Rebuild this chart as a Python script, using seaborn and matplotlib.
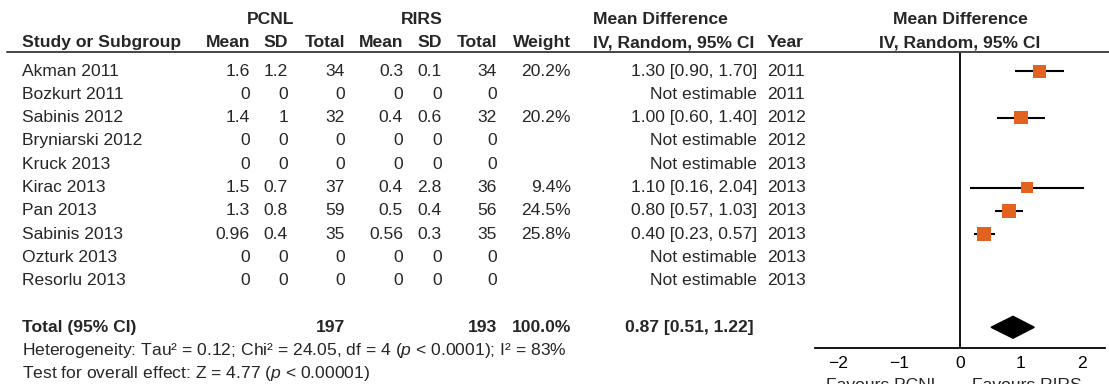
import numpy as np
import matplotlib
matplotlib.use("Agg")
import matplotlib.pyplot as plt
import matplotlib.transforms as mtrans
from matplotlib.lines import Line2D
import seaborn as sns

#%% data
studies = ["Akman 2011", "Bozkurt 2011", "Sabinis 2012", "Bryniarski 2012", "Kruck 2013",
           "Kirac 2013", "Pan 2013", "Sabinis 2013", "Ozturk 2013", "Resorlu 2013"]
pcnl_mean = [1.6, 0, 1.4, 0, 0, 1.5, 1.3, 0.96, 0, 0]
pcnl_sd = [1.2, 0, 1, 0, 0, 0.7, 0.8, 0.4, 0, 0]
pcnl_n = [34, 0, 32, 0, 0, 37, 59, 35, 0, 0]
rirs_mean = [0.3, 0, 0.4, 0, 0, 0.4, 0.5, 0.56, 0, 0]
rirs_sd = [0.1, 0, 0.6, 0, 0, 2.8, 0.4, 0.3, 0, 0]
rirs_n = [34, 0, 32, 0, 0, 36, 56, 35, 0, 0]
weight = [20.2, np.nan, 20.2, np.nan, np.nan, 9.4, 24.5, 25.8, np.nan, np.nan]
md = [1.30, np.nan, 1.00, np.nan, np.nan, 1.10, 0.80, 0.40, np.nan, np.nan]
ci_lo = [0.90, np.nan, 0.60, np.nan, np.nan, 0.16, 0.57, 0.23, np.nan, np.nan]
ci_hi = [1.70, np.nan, 1.40, np.nan, np.nan, 2.04, 1.03, 0.57, np.nan, np.nan]
years = [2011, 2011, 2012, 2012, 2013, 2013, 2013, 2013, 2013, 2013]

total_pcnl_n = 197
total_rirs_n = 193
total_weight = 100.0
total_md, total_lo, total_hi = 0.87, 0.51, 1.22
heterogeneity = "Heterogeneity: Tau² = 0.12; Chi² = 24.05, df = 4 ($\\it{p}$ < 0.0001); I² = 83%"
overall = "Test for overall effect: Z = 4.77 ($\\it{p}$ < 0.00001)"
xticks = [-2, -1, 0, 1, 2]

#%% style
sns.set_style("white")
plt.rcParams["font.family"] = ["Liberation Sans", "DejaVu Sans"]
plt.rcParams["mathtext.fontset"] = "custom"
plt.rcParams["mathtext.it"] = "Liberation Sans:italic"
plt.rcParams["mathtext.rm"] = "Liberation Sans"
FS = 12.6
orange = "#e2621f"

W, H = 1109, 384
fig = plt.figure(figsize=(W / 100, H / 100), dpi=100)
fx = lambda px: px / W

# forest panel (pixel box 815..1105 wide, 52..348 from top)
ax = fig.add_axes([fx(815), 1 - 348 / H, fx(290), 296 / H])
ax.set_xlim(-2.38, 2.38)
ax.set_ylim(11.89, -0.82)

rows = np.arange(len(studies))
ok = ~np.isnan(md)
ax.hlines(rows[ok], np.array(ci_lo)[ok], np.array(ci_hi)[ok], color="black", lw=1.5, zorder=2)
sns.scatterplot(x=np.array(md)[ok], y=rows[ok], size=np.array(weight)[ok], sizes=(70, 100),
                size_norm=(9.4, 25.8), marker="s", color=orange, linewidth=0,
                legend=False, ax=ax, zorder=3)
total_row = len(studies) + 1
ax.fill([total_lo, total_md, total_hi, total_md], [total_row, total_row - 0.47, total_row, total_row + 0.47],
        color="black", zorder=3)
ax.axvline(0, color="black", lw=1.3, zorder=1)

ax.set_xticks(xticks)
ax.set_yticks([])
ax.set_xlabel("")
ax.set_ylabel("")
sns.despine(ax=ax, left=True)
ax.spines["bottom"].set_linewidth(1.3)
ax.spines["bottom"].set_color("black")
ax.tick_params(axis="x", direction="inout", length=9, width=1.3, labelsize=FS, pad=1, colors="black")

bt = mtrans.blended_transform_factory(ax.transData, ax.transAxes)
ax.text(-0.33, -0.1, "Favours PCNL", transform=bt, ha="right", va="top", fontsize=FS)
ax.text(0.2, -0.1, "Favours RIRS", transform=bt, ha="left", va="top", fontsize=FS)

#%% table text
tr = mtrans.blended_transform_factory(fig.transFigure, ax.transData)


def put(px, y, s, ha="right", bold=False):
    ax.text(fx(px), y, s, transform=tr, ha=ha, va="center", fontsize=FS,
            fontweight="bold" if bold else "normal", clip_on=False)


fmt = lambda v: f"{v:g}"
col_right = [250, 288, 345, 403, 442, 497]

# headers
put(271, -2.2, "PCNL", ha="center", bold=True)
put(422, -2.2, "RIRS", ha="center", bold=True)
put(593, -2.2, "Mean Difference", ha="left", bold=True)
put(960, -2.2, "Mean Difference", ha="center", bold=True)
put(22, -1.22, "Study or Subgroup", ha="left", bold=True)
for px, lab in zip(col_right, ["Mean", "SD", "Total", "Mean", "SD", "Total"]):
    put(px, -1.22, lab, bold=True)
put(571, -1.22, "Weight", bold=True)
put(593, -1.22, "IV, Random, 95% CI", ha="left", bold=True)
put(767, -1.22, "Year", ha="left", bold=True)
put(960, -1.22, "IV, Random, 95% CI", ha="center", bold=True)
fig.add_artist(Line2D([fx(7), 1], [1 - 52 / H] * 2, transform=fig.transFigure, color="#444444", lw=1.4))

# study rows
for i, name in enumerate(studies):
    put(22, i, name, ha="left")
    vals = [pcnl_mean[i], pcnl_sd[i], pcnl_n[i], rirs_mean[i], rirs_sd[i], rirs_n[i]]
    for px, v in zip(col_right, vals):
        put(px, i, fmt(v))
    if ok[i]:
        put(571, i, f"{weight[i]:.1f}%")
        put(757, i, f"{md[i]:.2f} [{ci_lo[i]:.2f}, {ci_hi[i]:.2f}]")
    else:
        put(757, i, "Not estimable")
    put(767, i, str(years[i]), ha="left")

# total and footnotes
put(22, total_row, "Total (95% CI)", ha="left", bold=True)
put(345, total_row, str(total_pcnl_n), bold=True)
put(497, total_row, str(total_rirs_n), bold=True)
put(571, total_row, f"{total_weight:.1f}%", bold=True)
put(754, total_row, f"{total_md:.2f} [{total_lo:.2f}, {total_hi:.2f}]", bold=True)
put(22, total_row + 1, heterogeneity, ha="left")
put(22, total_row + 2, overall, ha="left")

fig.savefig("out.png", dpi=100)
